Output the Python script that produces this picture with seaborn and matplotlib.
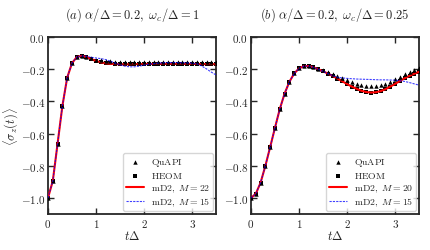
import numpy as np
import pandas as pd
import seaborn as sns
import matplotlib
matplotlib.use("Agg")
import matplotlib.pyplot as plt
from matplotlib.ticker import FuncFormatter, MultipleLocator

# time grid (t Delta), step 0.1
t = np.round(np.arange(36) * 0.1, 1)

# panel (a): alpha/Delta = 0.2, omega_c/Delta = 1
heom_a = [-1.000, -0.895, -0.662, -0.428, -0.252, -0.162, -0.124, -0.117, -0.124, -0.137,
          -0.148, -0.156, -0.161, -0.164, -0.166, -0.167, -0.168, -0.168, -0.168, -0.167,
          -0.167, -0.167, -0.167, -0.167, -0.167, -0.167, -0.167, -0.167, -0.167, -0.167,
          -0.167, -0.167, -0.168, -0.168, -0.168, -0.168]
quapi_a = [-1.000, -0.895, -0.662, -0.428, -0.252, -0.162, -0.124, -0.117, -0.122, -0.132,
           -0.140, -0.145, -0.148, -0.150, -0.152, -0.153, -0.153, -0.154, -0.154, -0.154,
           -0.154, -0.154, -0.154, -0.154, -0.154, -0.154, -0.154, -0.154, -0.154, -0.154,
           -0.154, -0.155, -0.155, -0.155, -0.155, -0.155]
md2_a_hi = [-1.000, -0.895, -0.662, -0.428, -0.252, -0.162, -0.124, -0.117, -0.124, -0.137,
            -0.149, -0.157, -0.163, -0.166, -0.168, -0.169, -0.169, -0.169, -0.168, -0.168,
            -0.167, -0.167, -0.167, -0.167, -0.167, -0.167, -0.167, -0.167, -0.167, -0.167,
            -0.167, -0.167, -0.168, -0.168, -0.168, -0.169]
md2_a_lo = [-1.000, -0.895, -0.662, -0.428, -0.252, -0.162, -0.124, -0.117, -0.120, -0.126,
            -0.130, -0.134, -0.140, -0.150, -0.162, -0.173, -0.181, -0.185, -0.185, -0.181,
            -0.175, -0.169, -0.165, -0.162, -0.160, -0.159, -0.159, -0.159, -0.160, -0.161,
            -0.162, -0.166, -0.180, -0.198, -0.218, -0.236]

# panel (b): alpha/Delta = 0.2, omega_c/Delta = 0.25
heom_b = [-1.000, -0.974, -0.905, -0.800, -0.683, -0.563, -0.447, -0.351, -0.278, -0.226,
          -0.195, -0.181, -0.180, -0.188, -0.200, -0.213, -0.227, -0.242, -0.258, -0.275,
          -0.292, -0.308, -0.322, -0.334, -0.342, -0.345, -0.343, -0.336, -0.324, -0.308,
          -0.291, -0.273, -0.256, -0.241, -0.228, -0.217]
quapi_b = [-1.000, -0.974, -0.905, -0.800, -0.683, -0.563, -0.447, -0.351, -0.278, -0.226,
           -0.195, -0.180, -0.178, -0.185, -0.196, -0.207, -0.219, -0.232, -0.244, -0.256,
           -0.268, -0.281, -0.292, -0.300, -0.305, -0.307, -0.306, -0.300, -0.290, -0.278,
           -0.263, -0.247, -0.232, -0.218, -0.205, -0.195]
md2_b_hi = [-1.000, -0.974, -0.905, -0.800, -0.683, -0.563, -0.447, -0.351, -0.278, -0.226,
            -0.195, -0.181, -0.180, -0.188, -0.200, -0.213, -0.227, -0.242, -0.258, -0.275,
            -0.292, -0.308, -0.322, -0.334, -0.342, -0.345, -0.343, -0.336, -0.324, -0.308,
            -0.291, -0.273, -0.256, -0.241, -0.228, -0.216]
md2_b_lo = [-1.000, -0.974, -0.905, -0.800, -0.683, -0.563, -0.447, -0.351, -0.278, -0.226,
            -0.195, -0.181, -0.180, -0.188, -0.200, -0.213, -0.227, -0.240, -0.250, -0.254,
            -0.257, -0.259, -0.261, -0.262, -0.263, -0.264, -0.265, -0.266, -0.266, -0.267,
            -0.268, -0.271, -0.276, -0.283, -0.291, -0.299]

panels = [
    (r"$(a)\ \alpha/\Delta=0.2,\ \omega_c/\Delta=1$", heom_a, quapi_a, md2_a_hi, md2_a_lo, 22),
    (r"$(b)\ \alpha/\Delta=0.2,\ \omega_c/\Delta=0.25$", heom_b, quapi_b, md2_b_hi, md2_b_lo, 20),
]

sns.set_style("ticks")
plt.rcParams["mathtext.fontset"] = "cm"
plt.rcParams["font.family"] = ["DejaVu Serif"]
plt.rcParams["xtick.direction"] = "in"
plt.rcParams["ytick.direction"] = "in"

fig = plt.figure(figsize=(4.30, 2.51), dpi=100)
lefts = [0.1116, 0.5837]

for i, (title, heom, quapi, hi, lo, m_hi) in enumerate(panels):
    ax = fig.add_axes([lefts[i], 0.1434, 0.391, 0.705])
    df = pd.DataFrame({"t": t, "heom": heom, "quapi": quapi, "hi": hi, "lo": lo})
    # markers
    sns.scatterplot(data=df, x="t", y="quapi", marker="^", s=10, color="black",
                    linewidth=0, ax=ax, zorder=4, label=r"$\mathrm{QuAPI}$")
    sns.scatterplot(data=df, x="t", y="heom", marker="s", s=6, color="black",
                    linewidth=0, ax=ax, zorder=3, label=r"$\mathrm{HEOM}$")
    # lines
    sns.lineplot(data=df, x="t", y="hi", color="red", linewidth=1.5, ax=ax, zorder=3.5,
                 label=r"$\mathrm{mD2},\ M=%d$" % m_hi)
    sns.lineplot(data=df, x="t", y="lo", color="blue", alpha=0.75, linewidth=0.8, ax=ax,
                 zorder=5, linestyle=(0, (2, 1)), label=r"$\mathrm{mD2},\ M=15$")
    ax.set_xlim(0, 3.5)
    ax.set_ylim(-1.1, 0.0)
    ax.xaxis.set_major_locator(MultipleLocator(1))
    ax.yaxis.set_major_locator(MultipleLocator(0.2))
    ax.xaxis.set_major_formatter(FuncFormatter(lambda v, p: "$%d$" % round(v)))
    ax.yaxis.set_major_formatter(FuncFormatter(lambda v, p: "$%.1f$" % v))
    ax.tick_params(top=True, right=True, length=4, width=1.0, labelsize=8, pad=2)
    for s in ax.spines.values():
        s.set_linewidth(1.3)
    ax.set_title(title, fontsize=9, pad=14)
    ax.set_xlabel(r"$t\Delta$", fontsize=9, labelpad=0)
    if i == 0:
        ax.set_ylabel(r"$\langle\sigma_z(t)\rangle$", fontsize=9, labelpad=0)
    else:
        ax.set_ylabel("")
    ax.legend(loc="lower right", fontsize=7, frameon=True, handlelength=1.9,
              borderpad=0.3, labelspacing=0.2, handletextpad=0.7, borderaxespad=0.3)

fig.savefig("out.png", dpi=100)
